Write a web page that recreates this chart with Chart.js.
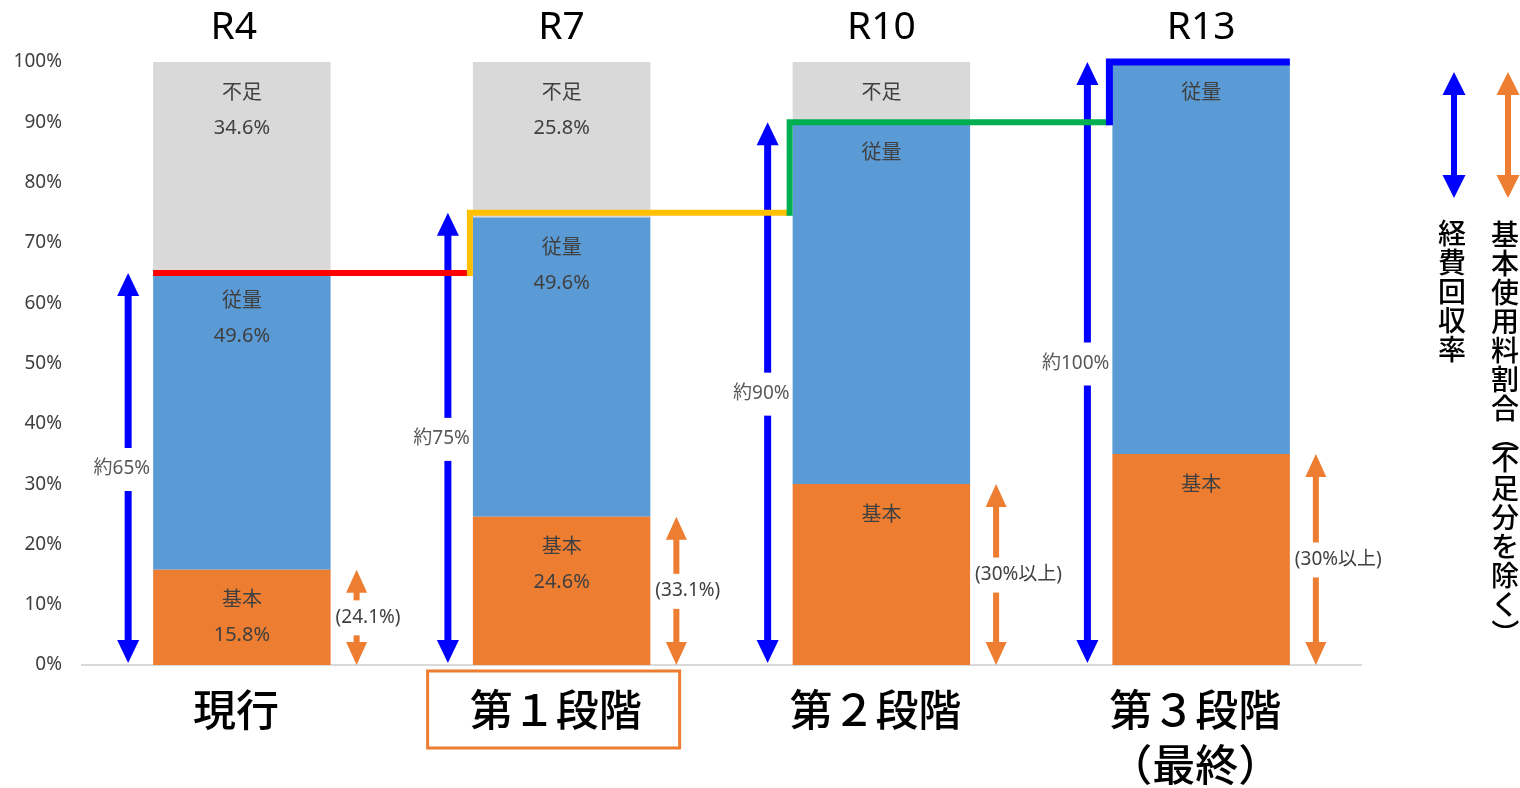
<!DOCTYPE html>
<html lang="ja">
<head>
<meta charset="utf-8">
<title>経費回収率と基本使用料割合</title>
<script src="https://cdn.jsdelivr.net/npm/chart.js@4.4.1/dist/chart.umd.min.js"></script>
<style>
  html, body { margin: 0; padding: 0; background: #ffffff; }
  canvas { display: block; }
</style>
</head>
<body>
<canvas id="chart" width="1520" height="788"></canvas>
<script>
// ---- data ----
const periods = ['R4', 'R7', 'R10', 'R13'];
const stageLabels = [['現行'], ['第１段階'], ['第２段階'], ['第３段階', '（最終）']];
const highlightedStage = 1;

const basicShare = [15.8, 24.6, 30, 35];        // 基本
const volumeShare = [49.6, 49.6, 60, 65];       // 従量
const shortfallShare = [34.6, 25.8, 10, 0];     // 不足
const showSegmentValue = [true, true, false, false];
const segmentNames = ['基本', '従量', '不足'];

const recoveryRate = [65, 75, 90, 100];
const recoveryLabels = ['約65%', '約75%', '約90%', '約100%'];
const basicRatioLabels = ['(24.1%)', '(33.1%)', '(30%以上)', '(30%以上)'];

const recoveryLegend = '経費回収率';
const basicLegend = '基本使用料割合（不足分を除く）';

// ---- styles ----
const FONT = '"Noto Sans", "Noto Sans CJK JP", sans-serif';
const CJK = '"Noto Sans CJK JP", "Noto Sans", sans-serif';
const COL = {
  basic: '#ED7D31',
  volume: '#5B9BD5',
  shortfall: '#D9D9D9',
  text: '#404040',
  arrowBlue: '#0000FF',
  arrowOrange: '#ED7D31',
  steps: ['#FF0000', '#FFC000', '#00B050', '#0000FF']
};

function doubleArrow(ctx, x, yBottom, yTop, color, shaft, headW, headH, gap) {
  ctx.save();
  ctx.fillStyle = color;
  ctx.beginPath();
  ctx.moveTo(x, yTop);
  ctx.lineTo(x + headW / 2, yTop + headH);
  ctx.lineTo(x - headW / 2, yTop + headH);
  ctx.closePath();
  ctx.fill();
  ctx.beginPath();
  ctx.moveTo(x, yBottom);
  ctx.lineTo(x + headW / 2, yBottom - headH);
  ctx.lineTo(x - headW / 2, yBottom - headH);
  ctx.closePath();
  ctx.fill();
  const s0 = yTop + headH - 1, s1 = yBottom - headH + 1;
  if (gap) {
    ctx.fillRect(x - shaft / 2, s0, shaft, Math.max(0, gap[0] - s0));
    ctx.fillRect(x - shaft / 2, gap[1], shaft, Math.max(0, s1 - gap[1]));
  } else {
    ctx.fillRect(x - shaft / 2, s0, shaft, s1 - s0);
  }
  ctx.restore();
}

// stacks characters top to bottom; brackets are turned for vertical writing
function verticalText(ctx, text, x, yStart, pitch, bracketPitch) {
  let y = yStart;
  for (const ch of text) {
    const isBracket = ch === '（' || ch === '）';
    if (isBracket) {
      ctx.save();
      ctx.translate(x, y);
      ctx.rotate(Math.PI / 2);
      ctx.fillText(ch, 0, 0);
      ctx.restore();
    } else {
      ctx.fillText(ch, x, y);
    }
    y += isBracket ? bracketPitch : pitch;
  }
}

const decorations = {
  id: 'decorations',
  afterDatasetsDraw(chart) {
    const ctx = chart.ctx;
    const y = chart.scales.y;
    const area = chart.chartArea;
    const metas = [0, 1, 2].map(i => chart.getDatasetMeta(i));
    const bars = metas[0].data;
    const series = [basicShare, volumeShare, shortfallShare];

    // labels inside bar segments
    ctx.save();
    ctx.textAlign = 'center';
    ctx.textBaseline = 'middle';
    ctx.fillStyle = COL.text;
    ctx.font = '20px ' + FONT;
    metas.forEach((meta, si) => {
      meta.data.forEach((bar, i) => {
        const v = series[si][i];
        if (!v) return;
        const top = bar.y;
        ctx.fillText(segmentNames[si], bar.x, top + 31);
        if (showSegmentValue[i]) ctx.fillText(v.toFixed(1) + '%', bar.x, top + 66);
      });
    });
    ctx.restore();

    // arrows and their labels
    ctx.save();
    ctx.textBaseline = 'middle';
    ctx.font = '19px ' + FONT;
    bars.forEach((bar, i) => {
      const left = bar.x - bar.width / 2;
      const right = bar.x + bar.width / 2;
      const y0 = y.getPixelForValue(0);

      // cost recovery rate
      const bx = left - 25;
      const bTop = y.getPixelForValue(recoveryRate[i]);
      const bMid = y.getPixelForValue(recoveryRate[i] / 2);
      doubleArrow(ctx, bx, y0 - 2, bTop, COL.arrowBlue, 7, 22, 23, [bMid - 21, bMid + 22]);
      ctx.fillStyle = '#595959';
      ctx.textAlign = 'right';
      ctx.fillText(recoveryLabels[i], left - 3, bMid);

      // basic charge share
      const ox = right + 26;
      const oTop = y.getPixelForValue(basicShare[i]);
      const oMid = y.getPixelForValue(basicShare[i] / 2);
      doubleArrow(ctx, ox, y0, oTop, COL.arrowOrange, 6, 21, 23, [oMid - 17, oMid + 18]);
      ctx.fillStyle = '#404040';
      ctx.textAlign = 'left';
      ctx.fillText(basicRatioLabels[i], right + 5, oMid);
    });
    ctx.restore();

    // stepped recovery-rate line
    ctx.save();
    ctx.lineJoin = 'miter';
    ctx.lineCap = 'butt';
    bars.forEach((bar, i) => {
      const left = bar.x - bar.width / 2;
      const right = bar.x + bar.width / 2;
      const yv = y.getPixelForValue(recoveryRate[i]);
      const startX = i === 0 ? left : left - 3;
      const endX = i === bars.length - 1 ? right : bars[i + 1].x - bars[i + 1].width / 2 - 3;
      ctx.strokeStyle = COL.steps[i];
      ctx.lineWidth = i === bars.length - 1 ? 7 : 6;
      ctx.beginPath();
      if (i > 0) {
        const yp = y.getPixelForValue(recoveryRate[i - 1]);
        ctx.moveTo(startX, yp + 3);
        ctx.lineTo(startX, yv);
      } else {
        ctx.moveTo(startX, yv);
      }
      ctx.lineTo(endX, yv);
      ctx.stroke();
    });
    ctx.restore();

    // period labels above, stage labels below
    ctx.save();
    ctx.textAlign = 'center';
    ctx.textBaseline = 'middle';
    ctx.fillStyle = '#000000';
    ctx.font = '39px ' + FONT;
    bars.forEach((bar, i) => ctx.fillText(periods[i], bar.x - (i === 0 ? 8 : 0), area.top - 34));
    ctx.font = '500 43px ' + CJK;
    bars.forEach((bar, i) => {
      stageLabels[i].forEach((line, li) => {
        ctx.fillText(line, bar.x - 6, area.bottom + 45 + li * 55);
      });
      if (i === highlightedStage) {
        ctx.strokeStyle = COL.basic;
        ctx.lineWidth = 3;
        ctx.strokeRect(bar.x - 134, area.bottom + 6, 252, 77);
      }
    });
    ctx.restore();

    // legend: two arrows with vertical captions
    ctx.save();
    const lx1 = chart.width - 66, lx2 = chart.width - 12;
    doubleArrow(ctx, lx1, 198, 72, COL.arrowBlue, 6, 23, 23, null);
    doubleArrow(ctx, lx2, 198, 72, COL.arrowOrange, 6, 23, 23, null);
    ctx.fillStyle = '#000000';
    ctx.textAlign = 'center';
    ctx.textBaseline = 'middle';
    ctx.font = '500 28px ' + CJK;
    verticalText(ctx, recoveryLegend, lx1 - 2, 233, 29, 22);
    verticalText(ctx, basicLegend, lx2 - 3, 234, 29, 22);
    ctx.restore();
  }
};

new Chart(document.getElementById('chart'), {
  type: 'bar',
  data: {
    labels: periods,
    datasets: [
      { label: segmentNames[0], data: basicShare, backgroundColor: COL.basic },
      { label: segmentNames[1], data: volumeShare, backgroundColor: COL.volume },
      { label: segmentNames[2], data: shortfallShare, backgroundColor: COL.shortfall }
    ]
  },
  options: {
    responsive: false,
    animation: false,
    layout: { padding: { top: 62, right: 159, bottom: 123, left: 0 } },
    datasets: { bar: { barPercentage: 0.555, categoryPercentage: 1, borderWidth: 0 } },
    plugins: { legend: { display: false }, tooltip: { enabled: false } },
    scales: {
      x: {
        stacked: true,
        grid: { display: false, drawTicks: false },
        border: { display: true, color: '#D9D9D9', width: 2 },
        ticks: { display: false },
        afterFit(scale) { scale.height = 0; }
      },
      y: {
        stacked: true,
        min: 0,
        max: 100,
        grid: { display: false, drawTicks: false },
        border: { display: false },
        ticks: {
          stepSize: 10,
          padding: 20,
          color: '#404040',
          font: { family: FONT, size: 19 },
          callback: v => v + '%'
        },
        afterFit(scale) { scale.width = 82; }
      }
    }
  },
  plugins: [decorations]
});
</script>
</body>
</html>
